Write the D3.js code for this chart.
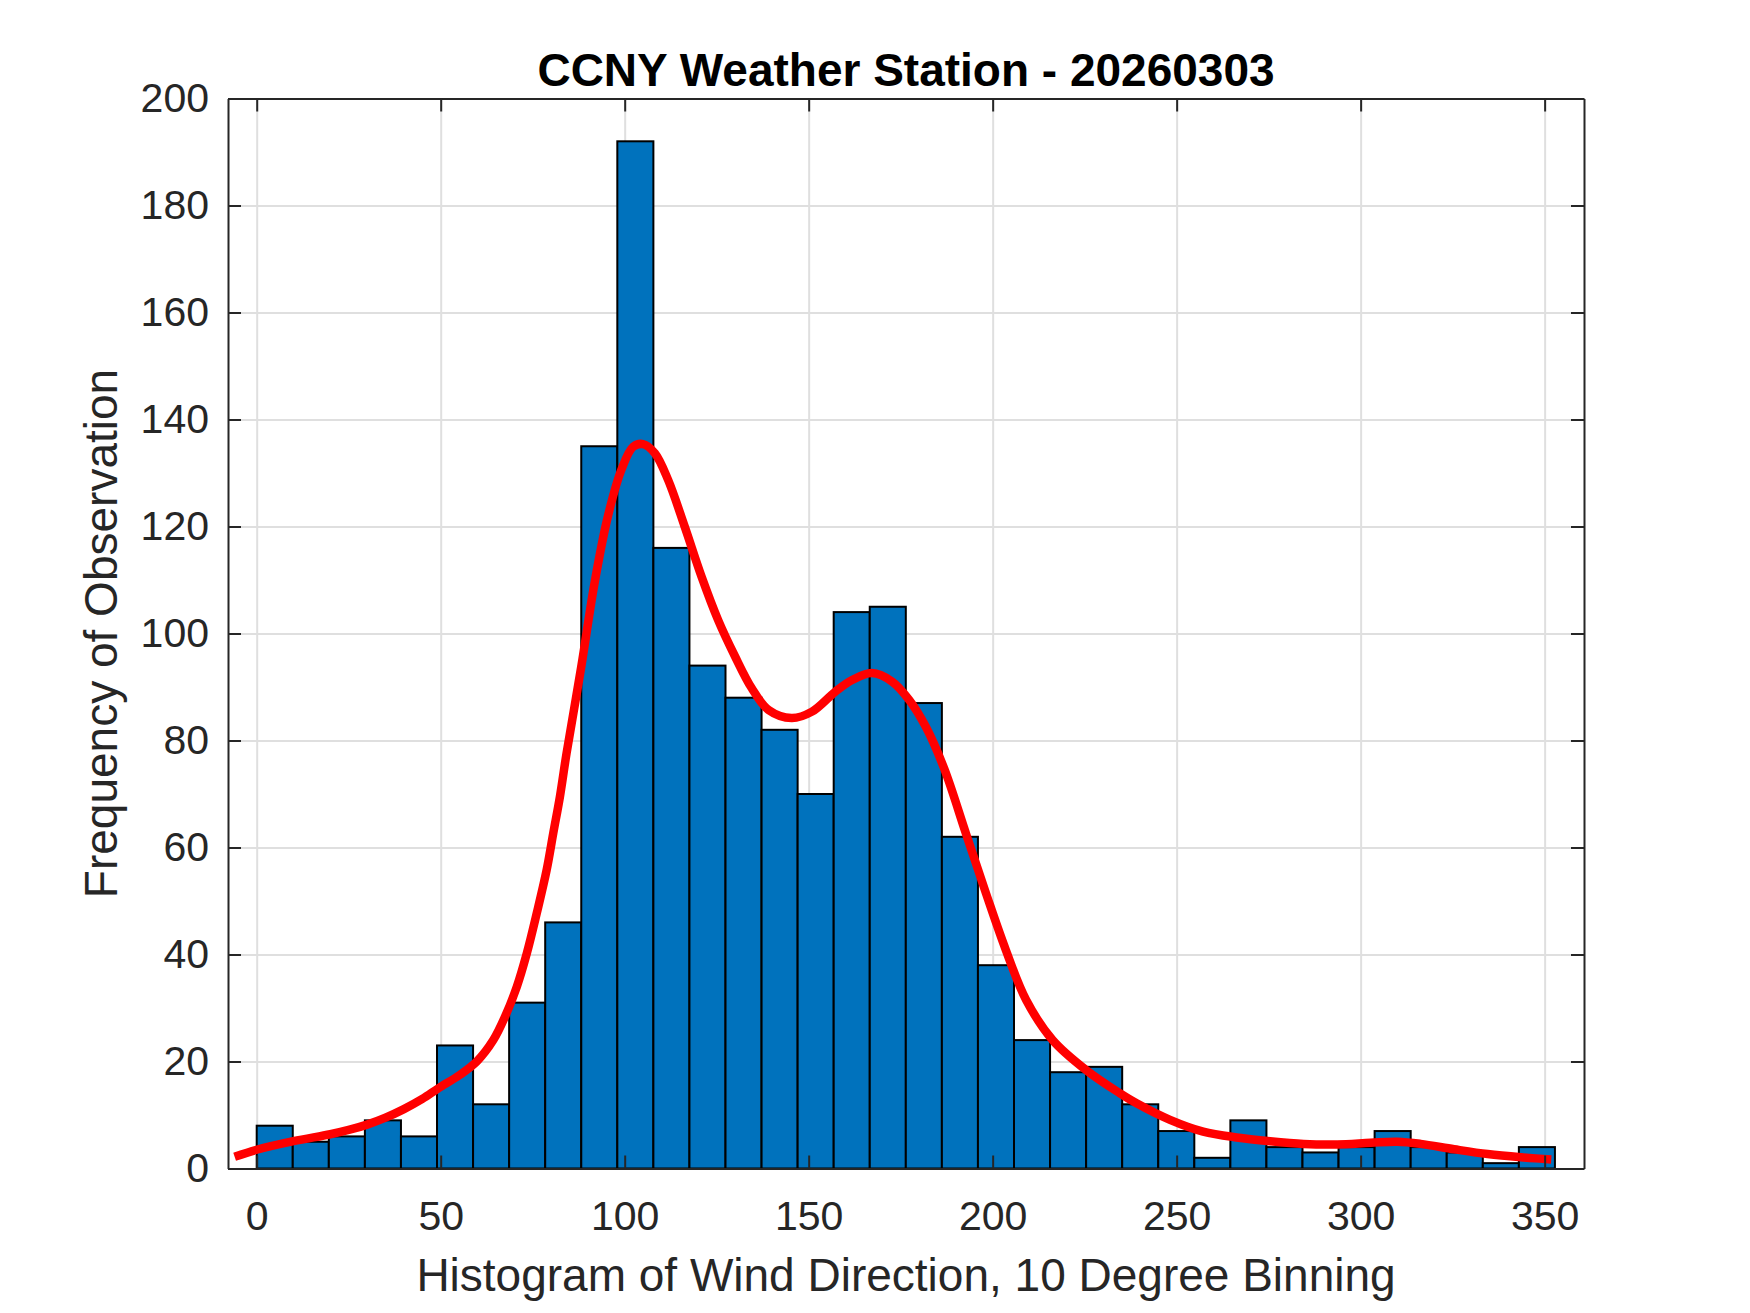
<!DOCTYPE html>
<html>
<head>
<meta charset="utf-8">
<script src="https://cdn.jsdelivr.net/npm/d3@7"></script>
<style>
  body { margin: 0; background: #fff; }
  svg text { font-family: "Liberation Sans", Arial, sans-serif; }
</style>
</head>
<body>
<div id="chart"></div>
<script>
// histogram counts per bin
const counts = [8, 5, 6, 9, 6, 23, 12, 31, 46, 135, 192, 116, 94, 88, 82, 70, 104, 105,
  87, 62, 38, 24, 18, 19, 12, 7, 2, 9, 4, 3, 4, 7, 4, 3, 1, 4];
const binStart = 0;
const binWidth = 9.8;

// red density curve (scaled to counts)
const curveX = [-6, 0, 10, 20, 25, 30, 35, 40, 45, 49.4, 55.2, 59.8, 64.3, 67.5, 70.7, 73.4, 76.1,
  78.8, 80.6, 82.4, 84.2, 88.2, 91.8, 95.4, 99.1, 102.3, 105, 108.2, 111.8, 116.3, 120.9, 125.4,
  130, 134.5, 139.1, 145.4, 150.9, 157.2, 161.8, 167.2, 172.7, 177.3, 181.8, 186.8, 192.7, 198.2,
  203.6, 209.1, 216.3, 225.4, 234.5, 239.1, 248.2, 257.2, 266.3, 275.4, 284.5, 293.6, 302.7, 310,
  316.3, 325.4, 334.5, 343.6, 351.8];
const curveY = [2.2, 3.5, 5.1, 6.4, 7.2, 8.2, 9.5, 11.1, 13.0, 15.0, 17.5, 20.0, 24.0, 28.4, 34.0, 40.2, 47.7,
  55.8, 62.7, 69.5, 77.6, 93.8, 109.4, 121.8, 130.6, 134.9, 135.4, 133.7, 128.7, 120.0, 110.6, 102.5,
  95.7, 89.8, 85.7, 84.2, 85.4, 89.1, 91.3, 92.6, 91.0, 87.6, 82.6, 74.8, 62.7, 51.4,
  40.8, 31.5, 24.0, 18.4, 14.1, 12.2, 9.1, 6.9, 5.8, 5.1, 4.6, 4.5, 4.8, 5.0,
  4.6, 3.6, 2.7, 2.1, 1.7];

const xTicks = [0, 50, 100, 150, 200, 250, 300, 350];
const yTicks = [0, 20, 40, 60, 80, 100, 120, 140, 160, 180, 200];

const titleText = "CCNY Weather Station - 20260303";
const xLabel = "Histogram of Wind Direction, 10 Degree Binning";
const yLabel = "Frequency of Observation";

(function wind_histogram() {
  const width = 1750,
    height = 1313,
    margin = { top: 98.5, right: 166, bottom: 144.5, left: 228 };

  const axisColor = "#262626";

  const svg = d3.select("#chart")
    .append("svg")
    .attr("width", width)
    .attr("height", height)
    .attr("viewBox", [0, 0, width, height]);

  const x = d3.scaleLinear([-7.8, 360.7], [margin.left, width - margin.right]);
  const y = d3.scaleLinear([0, 200], [height - margin.bottom, margin.top]);

  const plotW = width - margin.left - margin.right;
  const plotH = height - margin.top - margin.bottom;

  // grid
  svg.append("g")
    .attr("class", "grid")
    .attr("transform", `translate(0,${height - margin.bottom})`)
    .call(d3.axisBottom(x).tickValues(xTicks).tickSize(-plotH).tickFormat(""))
    .call(g => g.select(".domain").remove());

  svg.append("g")
    .attr("class", "grid")
    .attr("transform", `translate(${margin.left},0)`)
    .call(d3.axisLeft(y).tickValues(yTicks).tickSize(-plotW).tickFormat(""))
    .call(g => g.select(".domain").remove());

  svg.selectAll(".grid line")
    .attr("stroke", "#dfdfdf")
    .attr("stroke-width", 2);

  // bars
  const bins = counts.map((c, i) => ({
    x0: binStart + i * binWidth,
    x1: binStart + (i + 1) * binWidth,
    count: c
  }));

  svg.append("g")
    .attr("fill", "#0072BD")
    .attr("stroke", "#000")
    .attr("stroke-width", 2)
    .selectAll("rect")
    .data(bins)
    .join("rect")
    .attr("x", d => x(d.x0))
    .attr("y", d => y(d.count))
    .attr("width", d => x(d.x1) - x(d.x0))
    .attr("height", d => y(0) - y(d.count));

  // density curve
  const pts = curveX.map((v, i) => [v, curveY[i]]);

  svg.append("path")
    .datum(pts)
    .attr("fill", "none")
    .attr("stroke", "#FF0000")
    .attr("stroke-width", 8.5)
    .attr("stroke-linejoin", "round")
    .attr("d", d3.line()
      .x(d => x(d[0]))
      .y(d => y(d[1]))
      .curve(d3.curveCatmullRom.alpha(0.5)));

  // axes, ticks inward like the original
  const bottom = svg.append("g")
    .attr("transform", `translate(0,${height - margin.bottom})`)
    .call(d3.axisBottom(x).tickValues(xTicks).tickSize(-13).tickSizeOuter(0).tickPadding(32));

  svg.append("g")
    .attr("transform", `translate(0,${margin.top})`)
    .call(d3.axisTop(x).tickValues(xTicks).tickSize(-13).tickSizeOuter(0).tickFormat(""));

  const left = svg.append("g")
    .attr("transform", `translate(${margin.left},0)`)
    .call(d3.axisLeft(y).tickValues(yTicks).tickSize(-13).tickSizeOuter(0).tickPadding(19));

  svg.append("g")
    .attr("transform", `translate(${width - margin.right},0)`)
    .call(d3.axisRight(y).tickValues(yTicks).tickSize(-13).tickSizeOuter(0).tickFormat(""));

  svg.selectAll(".domain, .tick line")
    .attr("stroke", axisColor)
    .attr("stroke-width", 2);

  svg.selectAll(".grid .tick line").attr("stroke", "#dfdfdf");

  bottom.selectAll("text")
    .attr("font-size", 41)
    .attr("fill", axisColor);

  left.selectAll("text")
    .attr("font-size", 41)
    .attr("fill", axisColor);

  // labels
  svg.append("text")
    .attr("text-anchor", "middle")
    .attr("x", margin.left + plotW / 2)
    .attr("y", 86)
    .attr("font-size", 46)
    .attr("font-weight", "bold")
    .attr("fill", "#000")
    .text(titleText);

  svg.append("text")
    .attr("text-anchor", "middle")
    .attr("x", margin.left + plotW / 2)
    .attr("y", 1291)
    .attr("font-size", 46)
    .attr("fill", axisColor)
    .text(xLabel);

  svg.append("text")
    .attr("text-anchor", "middle")
    .attr("transform", `translate(117,${margin.top + plotH / 2}) rotate(-90)`)
    .attr("font-size", 46)
    .attr("fill", axisColor)
    .text(yLabel);
})();
</script>
</body>
</html>
